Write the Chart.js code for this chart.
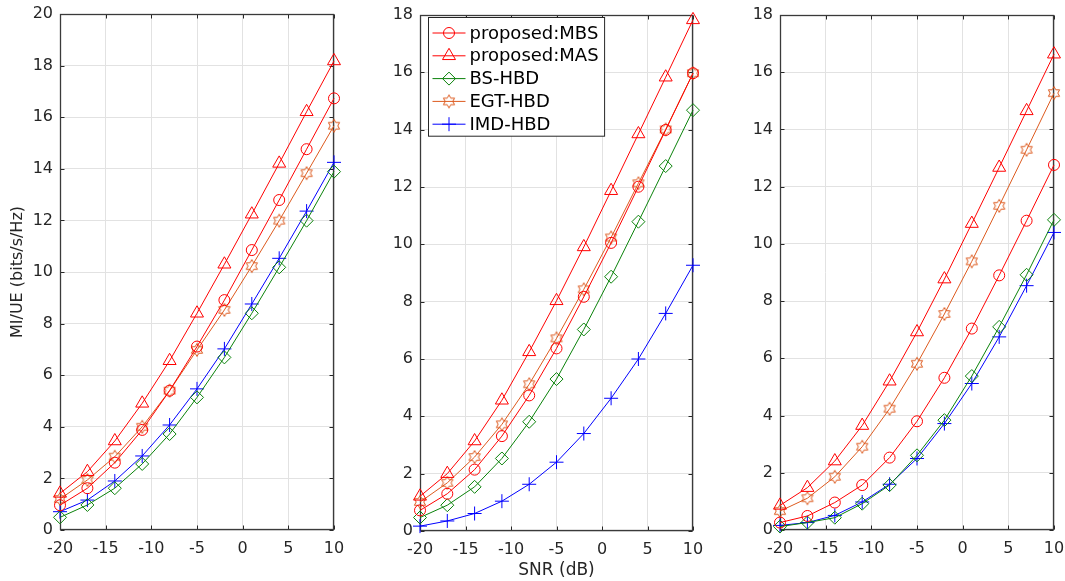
<!DOCTYPE html>
<html><head><meta charset="utf-8">
<script src="https://cdn.jsdelivr.net/npm/chart.js@4/dist/chart.umd.min.js"></script>
<style>
html,body{margin:0;padding:0;background:#fff;width:1065px;height:581px;overflow:hidden}
.p{position:absolute;top:0;height:581px}
canvas{display:block}
</style></head><body>
<div class="p" style="left:0;width:350px"><canvas id="c1" width="350" height="581"></canvas></div>
<div class="p" style="left:355px;width:355px"><canvas id="c2" width="355" height="581"></canvas></div>
<div class="p" style="left:710px;width:355px"><canvas id="c3" width="355" height="581"></canvas></div>
<script>
// ---------- data ----------
const snr = [-20, -17, -14, -11, -8, -5, -2, 1, 4, 7, 10];
const seriesNames = ['proposed:MBS', 'proposed:MAS', 'BS-HBD', 'EGT-HBD', 'IMD-HBD'];
const xTicksLabel = 'SNR (dB)';
const yTitle = 'MI/UE (bits/s/Hz)';

// panel 1
const p1_MBS = [0.96, 1.62, 2.61, 3.88, 5.40, 7.11, 8.91, 10.85, 12.79, 14.76, 16.73];
const p1_MAS = [1.42, 2.26, 3.45, 4.91, 6.56, 8.40, 10.30, 12.24, 14.21, 16.21, 18.18];
const p1_BS  = [0.49, 0.97, 1.62, 2.56, 3.72, 5.14, 6.69, 8.40, 10.18, 11.99, 13.89];
const p1_EGT = [1.20, 1.94, 2.84, 4.00, 5.40, 6.98, 8.53, 10.23, 11.99, 13.83, 15.67];
const p1_IMD = [0.71, 1.16, 1.90, 2.87, 4.07, 5.47, 7.02, 8.76, 10.53, 12.36, 14.25];
// panel 2
const p2_MBS = [0.72, 1.30, 2.14, 3.31, 4.73, 6.37, 8.17, 10.05, 12.01, 13.99, 15.97];
const p2_MAS = [1.21, 2.00, 3.14, 4.56, 6.25, 8.03, 9.91, 11.87, 13.85, 15.83, 17.83];
const p2_BS  = [0.47, 0.90, 1.54, 2.53, 3.81, 5.30, 7.03, 8.87, 10.79, 12.73, 14.68];
const p2_EGT = [1.01, 1.68, 2.58, 3.72, 5.12, 6.72, 8.43, 10.24, 12.13, 14.01, 15.97];
const p2_IMD = [0.17, 0.35, 0.61, 1.04, 1.63, 2.40, 3.40, 4.63, 6.00, 7.59, 9.27];
// panel 3
const p3_MBS = [0.26, 0.49, 0.96, 1.57, 2.53, 3.80, 5.32, 7.04, 8.90, 10.81, 12.76];
const p3_MAS = [0.86, 1.48, 2.41, 3.65, 5.20, 6.92, 8.77, 10.71, 12.67, 14.65, 16.63];
const p3_BS  = [0.12, 0.26, 0.43, 0.92, 1.57, 2.61, 3.84, 5.38, 7.10, 8.92, 10.84];
const p3_EGT = [0.66, 1.11, 1.86, 2.91, 4.24, 5.81, 7.55, 9.39, 11.33, 13.29, 15.27];
const p3_IMD = [0.16, 0.26, 0.51, 0.98, 1.60, 2.50, 3.72, 5.12, 6.75, 8.54, 10.40];

// ---------- styles ----------
const RED = '#ff0000', GREEN = '#0a820a', ORANGE = '#dd5a1e', BLUE = '#0000ff';
const AXIS = '#262626';
const FONT = 'DejaVu Sans';

function hexagramPath(ctx, cx, cy, R) {
  const r = R / Math.sqrt(3);
  ctx.beginPath();
  for (let k = 0; k < 12; k++) {
    const a = -Math.PI / 2 + k * Math.PI / 6;
    const rr = (k % 2 === 0) ? R : r;
    const px = cx + rr * Math.cos(a), py = cy + rr * Math.sin(a);
    if (k === 0) ctx.moveTo(px, py); else ctx.lineTo(px, py);
  }
  ctx.closePath();
}
const hexImg = document.createElement('canvas');
hexImg.width = 16; hexImg.height = 16;
(function () {
  const c = hexImg.getContext('2d');
  c.strokeStyle = ORANGE; c.lineWidth = 1;
  hexagramPath(c, 8, 8, 6.5);
  c.stroke();
})();

const styles = [
  { color: RED, point: 'circle', r: 5.5 },
  { color: RED, point: 'triangle', r: 7.5 },
  { color: GREEN, point: 'rectRot', r: 6.5 },
  { color: ORANGE, point: hexImg, r: 6.5 },
  { color: BLUE, point: 'cross', r: 7 }
];

// ---------- plugins ----------
const boxPlugin = {
  id: 'boxTicks',
  beforeDatasetsDraw(chart) {
    const { ctx, chartArea: a, scales } = chart;
    const L = Math.round(a.left) + 0.5, R = Math.round(a.right) - 0.5;
    const T = Math.round(a.top) + 0.5, B = Math.round(a.bottom) - 0.5;
    ctx.save();
    ctx.strokeStyle = AXIS; ctx.lineWidth = 1;
    ctx.beginPath();
    const tl = 4;
    scales.x.ticks.forEach(t => {
      const px = Math.round(scales.x.getPixelForValue(t.value)) + 0.5;
      ctx.moveTo(px, B); ctx.lineTo(px, B - tl);
      ctx.moveTo(px, T); ctx.lineTo(px, T + tl);
    });
    scales.y.ticks.forEach(t => {
      const py = Math.round(scales.y.getPixelForValue(t.value)) + 0.5;
      ctx.moveTo(L, py); ctx.lineTo(L + tl, py);
      ctx.moveTo(R, py); ctx.lineTo(R - tl, py);
    });
    ctx.stroke();
    ctx.strokeStyle = '#3a3a3a';
    ctx.lineWidth = 1.3;
    ctx.strokeRect(L, T, R - L, B - T);
    ctx.restore();
  }
};

function drawLegendMarker(ctx, st, x, y) {
  ctx.strokeStyle = st.color; ctx.lineWidth = 1;
  const r = st.r;
  if (st.point === hexImg) { ctx.drawImage(hexImg, x - 8, y - 8); return; }
  ctx.beginPath();
  if (st.point === 'circle') ctx.arc(x, y, r, 0, Math.PI * 2);
  else if (st.point === 'triangle') {
    for (let k = 0; k < 3; k++) {
      const a = -Math.PI / 2 + k * 2 * Math.PI / 3;
      const px = x + r * Math.cos(a), py = y + r * Math.sin(a);
      if (k === 0) ctx.moveTo(px, py); else ctx.lineTo(px, py);
    }
    ctx.closePath();
  } else if (st.point === 'rectRot') {
    ctx.moveTo(x - r, y); ctx.lineTo(x, y - r); ctx.lineTo(x + r, y); ctx.lineTo(x, y + r); ctx.closePath();
  } else if (st.point === 'cross') {
    ctx.moveTo(x - r, y); ctx.lineTo(x + r, y); ctx.moveTo(x, y - r); ctx.lineTo(x, y + r);
  }
  ctx.stroke();
}

const legendPlugin = {
  id: 'boxLegend',
  afterDatasetsDraw(chart, args, opts) {
    if (!opts || !opts.show) return;
    const { ctx, chartArea: a } = chart;
    const ds = chart.data.datasets;
    ctx.save();
    ctx.font = '18px "' + FONT + '"';
    let maxW = 0;
    ds.forEach(d => { maxW = Math.max(maxW, ctx.measureText(d.label).width); });
    const bx = Math.round(a.left) + 8.5, by = Math.round(a.top) + 2.5;
    const textX = bx + 41;
    const bw = textX + maxW + 6 - bx;
    const rowH = 22.8, firstY = by + 15.5;
    const bh = firstY + rowH * (ds.length - 1) + 12 - by;
    ctx.fillStyle = '#fff';
    ctx.fillRect(bx, by, bw, bh);
    ctx.strokeStyle = AXIS; ctx.lineWidth = 1;
    ctx.strokeRect(bx, by, bw, bh);
    ds.forEach((d, i) => {
      const y = firstY + i * rowH;
      const st = styles[i];
      ctx.strokeStyle = st.color; ctx.lineWidth = 1;
      ctx.beginPath(); ctx.moveTo(bx + 4, y); ctx.lineTo(bx + 37, y); ctx.stroke();
      drawLegendMarker(ctx, st, bx + 20.5, y);
      ctx.fillStyle = '#000';
      ctx.textBaseline = 'middle'; ctx.textAlign = 'left';
      ctx.fillText(d.label, textX, y + 1);
    });
    ctx.restore();
  }
};

// ---------- chart factory ----------
function makeChart(id, series, o) {
  const datasets = series.map((vals, i) => ({
    label: seriesNames[i],
    data: snr.map((x, j) => ({ x: x, y: vals[j] })),
    borderColor: styles[i].color,
    backgroundColor: 'rgba(0,0,0,0)',
    borderWidth: 1,
    pointStyle: styles[i].point,
    pointRadius: styles[i].r,
    pointHoverRadius: styles[i].r,
    pointBorderWidth: 1,
    pointBorderColor: styles[i].color,
    pointBackgroundColor: 'rgba(0,0,0,0)',
    tension: 0,
    fill: false,
    clip: false
  }));
  return new Chart(document.getElementById(id), {
    type: 'line',
    data: { datasets },
    options: {
      responsive: false,
      animation: false,
      devicePixelRatio: 1,
      events: [],
      layout: { padding: { left: 0, top: o.padT, right: o.padR, bottom: 0 } },
      plugins: {
        legend: { display: false },
        tooltip: { enabled: false },
        boxLegend: { show: !!o.legend }
      },
      scales: {
        x: {
          type: 'linear', min: -20, max: 10,
          ticks: { stepSize: 5, color: AXIS, font: { family: FONT, size: 16 }, padding: 9, maxRotation: 0, autoSkip: false },
          grid: { color: '#e2e2e2', drawTicks: false, lineWidth: 1 },
          border: { display: false },
          title: { display: !!o.xTitle, text: o.xTitle || '', color: AXIS, font: { family: FONT, size: 17 }, padding: { top: 0, bottom: 0 } },
          afterFit: s => { s.height = o.xH; s.paddingLeft = 0; s.paddingRight = 0; }
        },
        y: {
          type: 'linear', min: 0, max: o.yMax,
          ticks: { stepSize: 2, color: AXIS, font: { family: FONT, size: 16 }, padding: 7, autoSkip: false },
          grid: { color: '#e2e2e2', drawTicks: false, lineWidth: 1 },
          border: { display: false },
          title: { display: !!o.yTitle, text: o.yTitle || '', color: AXIS, font: { family: FONT, size: 16 }, padding: { top: 8, bottom: 0 } },
          afterFit: s => { s.width = o.yW; s.paddingTop = 0; s.paddingBottom = 0; }
        }
      }
    },
    plugins: [boxPlugin, legendPlugin]
  });
}

makeChart('c1', [p1_MBS, p1_MAS, p1_BS, p1_EGT, p1_IMD],
  { padT: 14, padR: 16, xH: 51, yW: 60, yMax: 20, yTitle: yTitle });
makeChart('c2', [p2_MBS, p2_MAS, p2_BS, p2_EGT, p2_IMD],
  { padT: 15, padR: 17, xH: 50, yW: 65, yMax: 18, xTitle: xTicksLabel, legend: true });
makeChart('c3', [p3_MBS, p3_MAS, p3_BS, p3_EGT, p3_IMD],
  { padT: 15, padR: 11, xH: 51, yW: 70, yMax: 18 });
</script>
</body></html>
